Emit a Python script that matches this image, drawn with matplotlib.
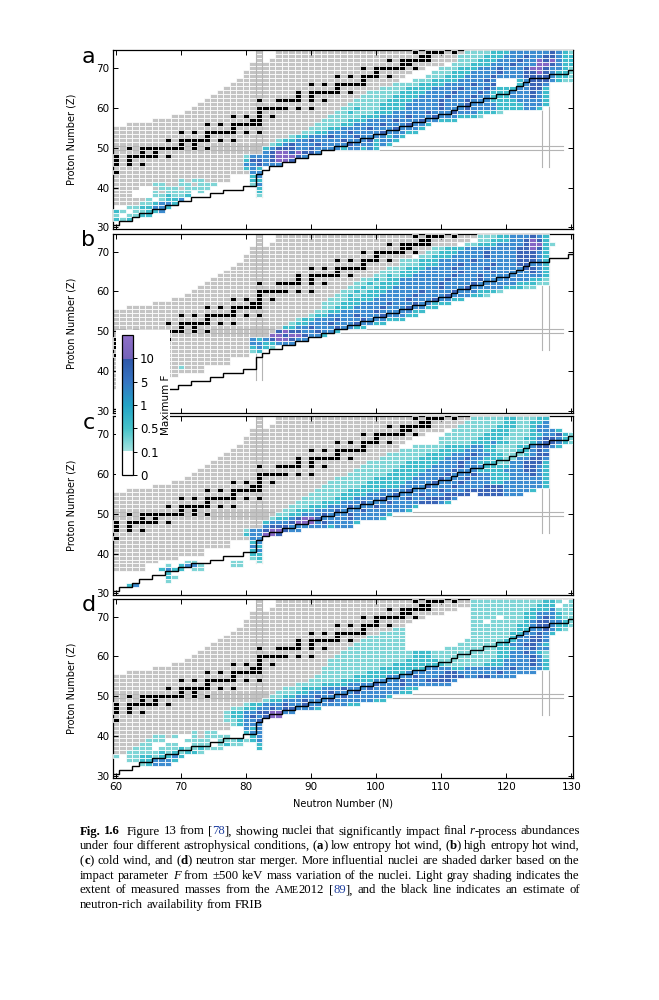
import re
import numpy as np
import matplotlib
matplotlib.use('Agg')
import matplotlib.pyplot as plt
from matplotlib.patches import Rectangle
from matplotlib.collections import PatchCollection
from matplotlib.colors import LinearSegmentedColormap, Normalize
from matplotlib.cm import ScalarMappable

# ---- measured masses (AME2012): gray band, lowest / highest Z for each N ----
gray_n = list(range(60, 117))
gray_zlo = [36, 36, 36, 36, 36, 38, 38, 39, 39, 39, 40, 40, 40, 40, 42, 42, 42, 42, 44, 44,
            44, 45, 46, 47, 47, 48, 49, 49, 50, 51, 52, 53, 54, 55, 56, 58, 59, 60, 61, 62,
            63, 64, 65, 66, 68, 69, 70, 70, 71, 71, 71, 72, 72, 73, 73, 74, 74]
gray_zhi = [55, 55, 56, 56, 56, 56, 57, 57, 57, 58, 58, 59, 60, 61, 62, 63, 64, 65, 66, 67,
            69, 71, 74, 71, 72, 74, 74, 74, 74, 74, 74, 74, 74, 74, 74, 74, 74, 74, 74, 74,
            74, 74, 74, 74, 74, 74, 74, 74, 74, 74, 74, 74, 74, 74, 74, 74, 74]

# ---- stable nuclei (black squares) ----
stable_z = [44, 46, 47, 48, 49, 50, 51, 52, 53, 54, 55, 56, 57, 58, 59, 60, 62, 63, 64, 65,
            66, 67, 68, 69, 70, 71, 72, 73, 74]
stable_n = [[60], [60, 62, 64], [60, 62], [60, 62, 63, 64, 65, 66, 68], [64, 66],
            [62, 64, 65, 66, 67, 68, 69, 70, 72, 74], [70, 72],
            [68, 70, 71, 72, 73, 74, 76, 78], [74], [70, 72, 74, 75, 76, 77, 78, 80, 82],
            [78], [74, 76, 78, 79, 80, 81, 82], [81, 82], [78, 80, 82, 84], [82],
            [82, 83, 84, 85, 86, 88, 90], [82, 85, 86, 87, 88, 90, 92], [88, 90],
            [88, 90, 91, 92, 93, 94, 96], [94], [90, 92, 94, 95, 96, 97, 98], [98],
            [94, 96, 98, 99, 100, 102], [100], [98, 100, 101, 102, 103, 104, 106],
            [104, 105], [102, 104, 105, 106, 107, 108], [107, 108],
            [106, 108, 109, 110, 112]]

# ---- FRIB reach: lowest Z for N = 60..130 ----
frib_n = list(range(60, 131))
frib_zmin = [31, 32, 32, 33, 34, 34, 35, 35, 36, 36, 37, 37, 38, 38, 38, 39, 39, 40, 40, 40,
             41, 41, 44, 45, 46, 46, 47, 47, 48, 48, 49, 49, 50, 50, 51, 51, 52, 52, 53, 53,
             54, 54, 55, 55, 56, 56, 57, 57, 58, 58, 59, 59, 60, 61, 61, 62, 62, 63, 63, 64,
             64, 65, 66, 67, 68, 68, 68, 69, 69, 69, 70]

# ---- maximum F per nucleus: rows of (Z, first N, levels) ----
# '.' none, '0' F<0.1, '1' 0.1-0.5, '2' 0.5-1, '3' 1-5, '4' 5-10, '5' >10
rows_a = [
    (32, 60, "212"), (33, 60, "1.1122"), (34, 60, "21.11223"), (35, 62, "1122332"),
    (36, 64, "112332"), (37, 65, "1.1223"), (38, 63, "000112112"), (38, 82, "1"),
    (39, 63, "0001.1111.1"), (39, 82, "2"), (40, 64, "00.111.1111"), (40, 82, "2"),
    (41, 66, "11..11.111"), (41, 81, "13"), (42, 70, "1.11"), (42, 81, "22"),
    (43, 81, "23"), (44, 81, "33"), (45, 80, "232"), (46, 80, "334333"),
    (47, 80, "24434554"), (48, 80, "1333455543"), (49, 83, "345545443"),
    (50, 83, "234443343333233232"), (51, 84, "1234333433334333232"),
    (52, 85, "1223343333433342332"), (53, 87, "122333433343333232"),
    (54, 89, "112233343333433322"), (55, 90, "111223333433343332"),
    (56, 91, "111122333343334332"), (57, 92, "111122233334333433222"),
    (58, 93, "111112223333433343332221"), (59, 94, "11211122233333433343332221"),
    (60, 95, "1121112222333334333433332222332"),
    (61, 96, "1111122223333343334333322223332"),
    (62, 97, "111112222333343334333222233332"),
    (63, 98, "11111222233334333433222333432"),
    (64, 99, "1111122223333433343222333432"),
    (65, 101, "11112222333343334322233442"),
    (66, 103, "111122223333433400023443"),
    (67, 106, "1112222333343000234443211"),
    (68, 108, "11122233334333344443221"), (69, 109, "1112223333433344543221"),
    (70, 110, "111222333433345543321"), (71, 112, "1112223334333554322"),
    (72, 113, "111222333433545322"), (73, 113, "111122233343344322"),
    (74, 114, "11112223333334321"),
]
rows_b = [
    (41, 70, "1"), (45, 81, "12"), (46, 81, "2321"), (47, 81, "3322333"),
    (48, 81, "323455433"), (49, 84, "554554332"), (50, 85, "4544334332"),
    (51, 86, "2233433343322"), (52, 87, "122333433343322"),
    (53, 88, "12233343334333222"), (54, 90, "12233334333433322"),
    (55, 91, "11223333343333322"), (56, 92, "112223333433343322"),
    (57, 92, "11122233334333433222"), (58, 93, "111222233333433343322"),
    (59, 94, "112122233333433334333221"), (60, 95, "1121222333334333343332221"),
    (61, 96, "11212223333333433343333322211"),
    (62, 97, "112122233333343333433333322211"),
    (63, 98, "11212233333334333343333333221"),
    (64, 100, "112122333333433343333333332"),
    (65, 101, "11122233333343333433333432"),
    (66, 102, "1112223333433334333334432"),
    (67, 104, "11122233343333433344332"), (68, 104, "11122233333433333344432"),
    (69, 107, "11222333334333344432"), (70, 108, "1122233334333344432"),
    (71, 109, "112223333333344542"), (72, 114, "1122233334552"), (72, 127, "1"),
    (73, 116, "11222334542"), (74, 116, "11122333432"),
]
rows_c = [
    (32, 62, "23"), (33, 68, "1"), (34, 68, "21"), (35, 68, "2"), (36, 67, "2322.11"),
    (37, 68, "1.2331"), (37, 78, "11"), (38, 71, "11"), (38, 78, "11"), (38, 82, "1"),
    (39, 81, "12"), (40, 81, "22"), (41, 81, "23"), (42, 81, "32"), (43, 81, "23"),
    (44, 81, "33"), (45, 80, "233554"), (46, 80, "133455433"),
    (47, 83, "34443333332333"), (48, 83, "233345553433332"),
    (49, 84, "122345543333433332"), (50, 85, "112233343334333332"),
    (51, 86, "11222333433343333332"), (52, 87, "11122233343334333332"),
    (53, 88, "111122233343334333344432"), (54, 89, "111112223333433343344443"),
    (55, 90, "111112222333343334333444404444333"),
    (56, 91, "1111122222333343333433344444433332"),
    (57, 92, "11111122222233334333433334443333332"),
    (58, 93, "1111112222223333433343333223333332"),
    (59, 94, "111111222222333343334333222333332"),
    (60, 96, "1111112222233334333433222333432"),
    (61, 97, "111111222223333433322223334432"),
    (62, 98, "11111122222333343332222334432"),
    (63, 99, "1111112222233343322211334442"),
    (64, 101, "11111122223334332221133443"),
    (65, 102, "1111112222333433221112344"),
    (66, 104, "11111122223332211122343"),
    (67, 106, "11111222233221112234432"), (68, 110, "111112223221112344321"),
    (69, 110, "111111222211122344321"), (70, 111, "11111122221112233421"),
    (71, 112, "11111122211123332"), (72, 113, "11111122211233"),
    (73, 114, "1111112211223"), (74, 115, "111112211122"),
]
rows_d = [
    (33, 64, "12333"), (34, 62, "11223332"), (35, 60, "1.112212232"),
    (36, 62, "111112121221"), (37, 63, "11101112112111"), (37, 82, "2"),
    (38, 64, "1100110011101211"), (38, 82, "2"), (39, 65, "1110001111.11121"),
    (39, 81, "23"), (40, 66, "11.1001.1111"), (40, 81, "23"), (41, 72, "1.11"),
    (41, 80, "233"), (42, 80, "323"), (43, 78, "12333"), (44, 77, "112334"),
    (45, 77, "122343455"), (46, 77, "12233445533"), (47, 78, "11223343443332"),
    (48, 80, "122333433433333322"), (49, 83, "1223334333433333322"),
    (50, 84, "1122333433343333332"), (51, 85, "111223334333433333322"),
    (52, 86, "111222333433343333322"), (53, 88, "111122223333433343333333"),
    (54, 90, "11111222223333433344443"),
    (55, 91, "1111112222233334333444433443333"),
    (56, 92, "111111122222233333344333333433333"),
    (57, 92, "11111111122222223333223333333433332"),
    (58, 93, "1111111111222222221111112223333432"),
    (59, 93, "1111111111112222211111111223333432"),
    (60, 94, "111111111111222111111111122333431"),
    (61, 95, "11111111111222111111111122334321"),
    (62, 96, "111111111"), (62, 111, "1111111122233433"),
    (63, 97, "11111111"), (63, 113, "11111122334432"),
    (64, 98, "1111111"), (64, 114, "1111112233443"),
    (65, 99, "111111"), (65, 115, "111111233443"),
    (66, 101, "1111"), (66, 115, "1111112233432"),
    (67, 103, "11"), (67, 115, "111111122334321"),
    (68, 115, "1111111223443221"), (69, 115, "1101111123443321"),
    (70, 115, "1111011122343211"), (71, 115, "1111111122333211"),
    (72, 115, "1111111112223111"), (73, 115, "1111111111222011"),
    (74, 115, "1111111111122101"),
]

level_colors = ['#ffffff', '#7fd5d6', '#3fbccb', '#3d8cd0', '#3a64b6', '#8466c4']
gray_color = '#c4c4c4'
cbar_labels = ['0', '0.1', '0.5', '1', '5', '10']

caption_lines = [
    "**Fig.** **1.6**  Figure 13 from [{78}], showing nuclei that significantly impact final _r_-process abundances",
    "under four different astrophysical conditions, (**a**) low entropy hot wind, (**b**) high entropy hot wind,",
    "(**c**) cold wind, and (**d**) neutron star merger. More influential nuclei are shaded darker based on the",
    "impact parameter _F_ from ±500 keV mass variation of the nuclei. Light gray shading indicates the",
    "extent of measured masses from the A^ME^2012 [{89}], and the black line indicates an estimate of",
    "neutron-rich availability from FRIB",
]


def cell(n, z):
    return Rectangle((n - 0.5, z - 0.5), 1, 1)


def draw_panel(ax, rows):
    colored = {}
    for z, n0, levels in rows:
        for i, ch in enumerate(levels):
            if ch != '.':
                colored[(n0 + i, z)] = level_colors[int(ch)]
    for z, ns in zip(stable_z, stable_n):
        for n in ns:
            colored[(n, z)] = 'black'

    gray = []
    for n, lo, hi in zip(gray_n, gray_zlo, gray_zhi):
        for z in range(lo, hi + 1):
            if (n, z) not in colored:
                gray.append(cell(n, z))
    ax.add_collection(PatchCollection(gray, facecolor=gray_color, edgecolor='white',
                                      linewidth=0.55, zorder=1))

    # magic numbers
    lc = '#b4b4b4'
    for x in (81.5, 82.5):
        ax.plot([x, x], [37.7, 74.5], color=lc, lw=0.8, zorder=2)
    for x in (125.5, 126.5):
        ax.plot([x, x], [45.2, 74.5], color=lc, lw=0.8, zorder=2)
    for y in (49.5, 50.5):
        ax.plot([59.6, 128.8], [y, y], color=lc, lw=0.8, zorder=2)

    keys = list(colored.keys())
    ax.add_collection(PatchCollection([cell(n, z) for n, z in keys],
                                      facecolor=[colored[k] for k in keys],
                                      edgecolor='white', linewidth=0.55, zorder=3))

    ax.stairs(np.array(frib_zmin) - 0.5, np.arange(59.5, 131.5), baseline=None,
              color='black', lw=1.0, zorder=4)


fig = plt.figure(figsize=(6.59, 10), dpi=100)
panel_bottoms = [0.7707, 0.5873, 0.4047, 0.2223]
for i, (letter, rows) in enumerate(zip('abcd', [rows_a, rows_b, rows_c, rows_d])):
    ax = fig.add_axes([0.1719, panel_bottoms[i], 0.697, 0.179])
    draw_panel(ax, rows)
    ax.set_xlim(59.6, 130.2)
    ax.set_ylim(29.5, 74.5)
    ax.set_xticks(range(60, 131, 10))
    ax.set_yticks(range(30, 71, 10))
    ax.tick_params(direction='in', top=True, right=True, length=3.5, width=0.7,
                   labelsize=7.5, pad=3)
    for s in ax.spines.values():
        s.set_linewidth(0.9)
    ax.set_ylabel('Proton Number (Z)', fontsize=7)
    ax.yaxis.set_label_coords(-0.08, 0.5)
    if letter != 'd':
        ax.tick_params(labelbottom=False)
    else:
        ax.set_xlabel('Neutron Number (N)', fontsize=7, labelpad=5)
    ax.text(-0.054, 0.93, letter, transform=ax.transAxes, fontsize=16,
            ha='center', va='baseline')

# white box behind the colour bar
fig.patches.append(Rectangle((116 / 659, 1 - 483 / 1000), 54 / 659, 153 / 1000,
                             transform=fig.transFigure, facecolor='white',
                             edgecolor='none', zorder=5))

cmap = LinearSegmentedColormap.from_list('maxF', [
    (0.0, '#ffffff'), (1 / 6, '#ffffff'), (1 / 6, '#a6e3e0'), (2 / 6, '#45c2c9'),
    (3 / 6, '#22a3c6'), (4 / 6, '#3574c2'), (5 / 6, '#2f57a8'), (5 / 6, '#7463b9'),
    (1.0, '#8f6fc8')])
cax = fig.add_axes([122 / 659, 1 - 475 / 1000, 11 / 659, 140 / 1000])
cax.set_zorder(6)
cb = fig.colorbar(ScalarMappable(norm=Normalize(0, 6), cmap=cmap), cax=cax,
                  ticks=range(6))
cb.ax.set_yticklabels(cbar_labels)
cb.ax.tick_params(labelsize=8.5, length=3, width=0.7, pad=2)
cb.outline.set_linewidth(0.9)
cb.set_label('Maximum F', fontsize=7.5, labelpad=2)

# caption, justified word by word
renderer = fig.canvas.get_renderer()
W, H = 659.0, 1000.0
cap_left, cap_right = 80.0, 580.0
pattern = r'\*\*(.+?)\*\*|_(.+?)_|\{(.+?)\}|\^(.+?)\^|([^*_{}^]+)'
fs = 9.2
for k, line in enumerate(caption_lines):
    words = []
    extra = []
    pending = 0.0
    for w in line.split(' '):
        if not w:
            pending += 4.0
            continue
        words.append(w)
        extra.append(pending)
        pending = 0.0
    items = []
    for w in words:
        parts = []
        for m in re.finditer(pattern, w):
            bold, ital, cite, small, plain = m.groups()
            kw = dict(fontsize=fs, family=['Liberation Serif', 'DejaVu Serif'],
                      va='baseline', ha='left', color='black')
            if bold:
                txt = bold
                kw['weight'] = 'bold'
            elif ital:
                txt = ital
                kw['style'] = 'italic'
            elif cite:
                txt = cite
                kw['color'] = '#2040a0'
            elif small:
                txt = small
                kw['fontsize'] = fs * 0.78
            else:
                txt = plain
            t = fig.text(0, 0, txt, **kw)
            parts.append((t, t.get_window_extent(renderer).width))
        items.append(parts)
    widths = [sum(p[1] for p in parts) for parts in items]
    if k < len(caption_lines) - 1:
        gap = (cap_right - cap_left - sum(widths) - sum(extra)) / (len(items) - 1)
    else:
        gap = fs * 0.25 * 100 / 72
    x = cap_left
    y = 1 - (834.5 + 14.7 * k) / H
    for parts, ex in zip(items, extra):
        x += ex
        for t, w in parts:
            t.set_position((x / W, y))
            x += w
        x += gap

fig.savefig('out.png', dpi=100)
